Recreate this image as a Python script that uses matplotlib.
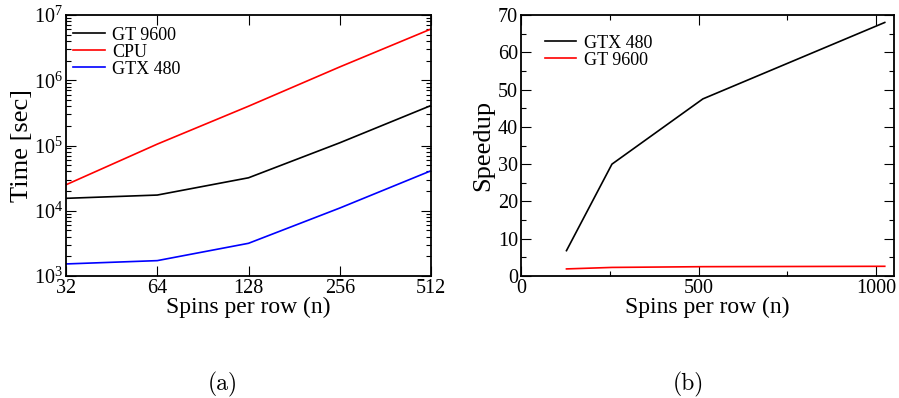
import matplotlib
matplotlib.use('Agg')
import matplotlib.pyplot as plt
from matplotlib.ticker import LogLocator, FixedLocator, MultipleLocator

plt.rcParams['font.family'] = ['Liberation Serif', 'DejaVu Serif']
plt.rcParams['mathtext.fontset'] = 'stix'

# (a) run time vs lattice size
spins = [32, 64, 128, 256, 512]
time_gt9600 = [1.55e4, 1.74e4, 3.2e4, 1.1e5, 4.1e5]
time_cpu = [2.5e4, 1.05e5, 4.0e5, 1.6e6, 6.1e6]
time_gtx480 = [1.53e3, 1.72e3, 3.17e3, 1.1e4, 4.1e4]

# (b) speedup vs lattice size
spins_b = [128, 256, 512, 1024]
speedup_gtx480 = [6.8, 30.0, 47.5, 68.0]
speedup_gt9600 = [1.9, 2.3, 2.5, 2.6]

fig = plt.figure(figsize=(8.99, 3.98), dpi=100)
W, H = 899, 398
ax1 = fig.add_axes([66 / W, 1 - 276 / H, (431 - 66) / W, (276 - 15) / H])
ax2 = fig.add_axes([521 / W, 1 - 276 / H, (894 - 521) / W, (276 - 15) / H])

lw = 1.2
leg_kw = dict(fontsize=13, frameon=False, handlelength=1.75, borderpad=0,
              borderaxespad=0, labelspacing=0.0, handletextpad=0.42)

ax1.plot(spins, time_gt9600, color='black', lw=lw, label='GT 9600')
ax1.plot(spins, time_cpu, color='red', lw=lw, label='CPU')
ax1.plot(spins, time_gtx480, color='blue', lw=lw, label='GTX 480')
ax1.set_xscale('log', base=2)
ax1.set_yscale('log')
ax1.set_xlim(32, 512)
ax1.set_ylim(1e3, 1e7)
ax1.xaxis.set_major_locator(FixedLocator(spins))
ax1.set_xticklabels([str(s) for s in spins])
ax1.xaxis.set_minor_locator(FixedLocator([]))
ax1.yaxis.set_major_locator(LogLocator(base=10, numticks=10))
ax1.yaxis.set_minor_locator(LogLocator(base=10, subs=range(2, 10), numticks=10))
ax1.set_xlabel('Spins per row (n)', fontsize=17, labelpad=-1)
ax1.set_ylabel('Time [sec]', fontsize=19, labelpad=1)
ax1.legend(loc='upper left', bbox_to_anchor=(0.019, 0.955), **leg_kw)

ax2.plot(spins_b, speedup_gtx480, color='black', lw=lw, label='GTX 480')
ax2.plot(spins_b, speedup_gt9600, color='red', lw=lw, label='GT 9600')
ax2.set_xlim(0, 1050)
ax2.set_ylim(0, 70)
ax2.xaxis.set_major_locator(MultipleLocator(500))
ax2.xaxis.set_minor_locator(MultipleLocator(250))
ax2.yaxis.set_major_locator(MultipleLocator(10))
ax2.yaxis.set_minor_locator(MultipleLocator(5))
ax2.set_xlabel('Spins per row (n)', fontsize=17, labelpad=-1)
ax2.set_ylabel('Speedup', fontsize=19, labelpad=3)
ax2.legend(loc='upper left', bbox_to_anchor=(0.064, 0.925), **leg_kw)

for ax in (ax1, ax2):
    for s in ax.spines.values():
        s.set_linewidth(1.3)
    ax.tick_params(which='both', direction='in', top=True, right=True,
                   labelsize=14.5, pad=2)
    ax.tick_params(which='major', length=7, width=0.8)
    ax.tick_params(which='minor', length=3.5, width=0.8)

fig.text(223 / W, 1 - 384 / H, '(a)', family='cmr10', fontsize=17,
         ha='center', va='center')
fig.text(688 / W, 1 - 384 / H, '(b)', family='cmr10', fontsize=17,
         ha='center', va='center')

fig.savefig('out.png', dpi=100)
